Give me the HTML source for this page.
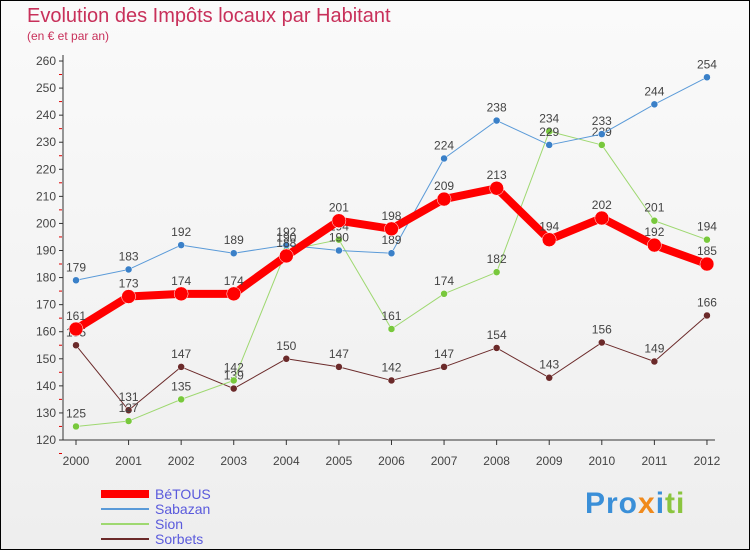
<!DOCTYPE html>
<html><head><meta charset="utf-8"><style>
body{margin:0;background:#fff}
#wrap{position:relative;width:748px;height:548px;border:1px solid #000;background:linear-gradient(#fafafa,#eee);font-family:"Liberation Sans",sans-serif;overflow:hidden}
.t{position:absolute;color:#c8305a}
</style></head><body>
<div id="wrap">
<div class="t" style="left:26px;top:4px;font-size:20px">Evolution des Impôts locaux par Habitant</div>
<div class="t" style="left:26px;top:28px;font-size:12px">(en € et par an)</div>
<svg id="svg" width="748" height="548" style="position:absolute;left:0;top:0"></svg>
<div style="position:absolute;left:584px;top:486px;font-size:30px;font-weight:bold;letter-spacing:1px"><span style="color:#3a8fd8">Pro</span><span style="color:#f08a1c">x</span><span style="color:#3a8fd8">i</span><span style="color:#8bc53f">ti</span></div>
</div>
<script>
const years=[2000,2001,2002,2003,2004,2005,2006,2007,2008,2009,2010,2011,2012];
const yTicks=[120,130,140,150,160,170,180,190,200,210,220,230,240,250,260];
const betous=[161,173,174,174,188,201,198,209,213,194,202,192,185];
const sabazan=[179,183,192,189,192,190,189,224,238,229,233,244,254];
const sion=[125,127,135,142,190,194,161,174,182,234,229,201,194];
const sorbets=[155,131,147,139,150,147,142,147,154,143,156,149,166];
const svg=document.getElementById('svg');const NS='http://www.w3.org/2000/svg';
function X(i){return 75+i*52.58}
function Y(v){return 439-(v-120)*2.707}
function el(t,a,p){const e=document.createElementNS(NS,t);for(const k in a)e.setAttribute(k,a[k]);(p||svg).appendChild(e);return e}
let ax=el('line',{x1:62,y1:Y(260)-6,x2:62,y2:Y(120),stroke:'#333'});


let bx=el('line',{x1:62,y1:Y(120),x2:X(12)+8,y2:Y(120),stroke:'#333'});


yTicks.forEach(v=>{
 el('line',{x1:58,x2:62,y1:Y(v),y2:Y(v),stroke:'#333'});
 el('line',{x1:58,x2:61,y1:Y(v)+13.5,y2:Y(v)+13.5,stroke:'#d00'});
 const t=el('text',{x:55,y:Y(v)+4,'text-anchor':'end','font-size':12,fill:'#444'});t.textContent=v;
 
 
});
years.forEach((y,i)=>{
 el('line',{x1:X(i),x2:X(i),y1:Y(120),y2:Y(120)+5,stroke:'#333'});
 const t=el('text',{x:X(i),y:464,'text-anchor':'middle','font-size':12,fill:'#444'});t.textContent=y;
 
 
});
function series(d,col,dot,w,r,name){
 const g=el('g',{});
 
 
 el('polyline',{points:d.map((v,i)=>X(i)+','+Y(v)).join(' '),fill:'none',stroke:col,'stroke-width':w,'stroke-linejoin':'round'},g);
 d.forEach((v,i)=>{
  const c=el('circle',{cx:X(i),cy:Y(v),r:r,fill:dot,stroke:'#fff','stroke-width':0.5},g);
  
  
  const t=el('text',{x:X(i),y:Y(v)-9,'text-anchor':'middle','font-size':12,fill:'#444'},g);t.textContent=v;
 });
}
series(sorbets,'#6b2a2a','#6b2a2a',1,3.5,'sorbets');
series(sion,'#9ed870','#78c83c',1,3.5,'sion');
series(sabazan,'#5a9ad8','#3a80c8',1,3.5,'sabazan');
series(betous,'#f00','#f00',8,7,'betous');
const leg=[['BéTOUS','#f00',8],['Sabazan','#5a9ad8',2],['Sion','#9ed870',2],['Sorbets','#6b2a2a',2]];
leg.forEach((l,i)=>{
 const y=493+i*15;
 const ln=el('line',{x1:100,x2:148,y1:y,y2:y,stroke:l[1],'stroke-width':l[2]});
 
 
 const t=el('text',{x:154,y:y+5,'font-size':14,fill:'#5a5adc'});t.textContent=l[0];
 
 
});
</script>
</body></html>
